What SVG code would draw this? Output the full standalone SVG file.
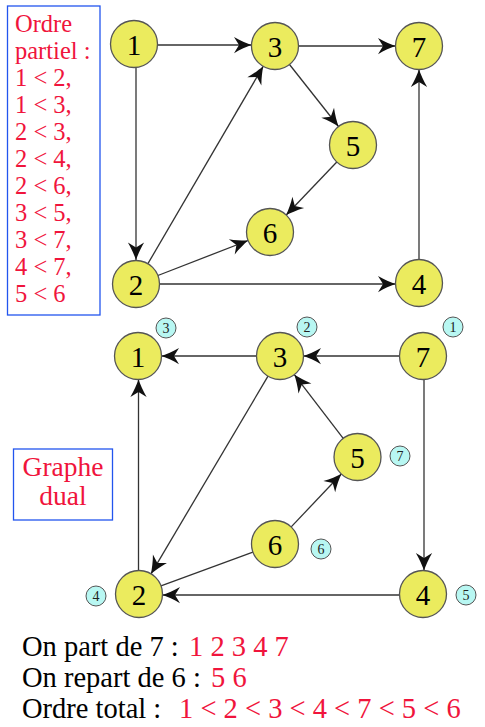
<svg xmlns="http://www.w3.org/2000/svg" width="485" height="727" viewBox="0 0 485 727">
<defs>
<style>
.node{fill:#ebeb5e;stroke:#555;stroke-width:1.3}
.badge{fill:#b8f7f2;stroke:#555;stroke-width:1}
.lbl{font-family:'Liberation Serif','DejaVu Serif',serif;font-size:29px;fill:#000;text-anchor:middle}
.blbl{font-family:'Liberation Serif','DejaVu Serif',serif;font-size:14px;fill:#222;text-anchor:middle}
.edge{stroke:#333;stroke-width:1.3;fill:none}
.arr{marker-end:url(#ah)}
.red{fill:#f0143c}
.txt{font-family:'Liberation Serif','DejaVu Serif',serif}
.box{fill:none;stroke:#2255ee;stroke-width:1.3}
</style>
<marker id="ah" markerUnits="userSpaceOnUse" markerWidth="20" markerHeight="20" viewBox="-15 -8 16 16" refX="0" refY="0" orient="auto">
<path d="M0,0 C-4,-1.5 -9,-3.5 -14,-6.5 L-10,0 L-14,6.5 C-9,3.5 -4,1.5 0,0 Z" fill="#111"/>
</marker>
</defs>
<rect width="485" height="727" fill="#fff"/>

<g id="legend-partiel">
<rect class="box" x="7.5" y="6" width="92.5" height="309"/>
<text class="txt red" font-size="24.5" x="15">
<tspan x="15" y="32">Ordre</tspan>
<tspan x="15" y="59">partiel :</tspan>
<tspan x="15" y="86">1 &lt; 2,</tspan>
<tspan x="15" y="113">1 &lt; 3,</tspan>
<tspan x="15" y="140">2 &lt; 3,</tspan>
<tspan x="15" y="167">2 &lt; 4,</tspan>
<tspan x="15" y="194">2 &lt; 6,</tspan>
<tspan x="15" y="221">3 &lt; 5,</tspan>
<tspan x="15" y="248">3 &lt; 7,</tspan>
<tspan x="15" y="275">4 &lt; 7,</tspan>
<tspan x="15" y="302">5 &lt; 6</tspan>
</text>
</g>

<g id="legend-dual">
<rect class="box" x="13.5" y="449" width="99" height="71"/>
<text class="txt red" font-size="27.5" text-anchor="middle"><tspan x="63" y="476">Graphe</tspan><tspan x="63" y="505">dual</tspan></text>
</g>

<g id="connectors">
<line class="edge arr" x1="157.5" y1="45" x2="251.5" y2="45"/>
<line class="edge arr" x1="136" y1="67.5" x2="136" y2="260"/>
<line class="edge arr" x1="298.5" y1="46" x2="395.5" y2="46"/>
<line class="edge arr" x1="289.5" y1="64.5" x2="338.5" y2="126.5"/>
<line class="edge arr" x1="336.8" y1="162" x2="286.2" y2="215"/>
<line class="edge arr" x1="147.9" y1="263.7" x2="263.2" y2="66.3"/>
<line class="edge arr" x1="157.9" y1="275.5" x2="248.1" y2="240.5"/>
<line class="edge arr" x1="159.5" y1="284" x2="395.5" y2="284"/>
<line class="edge arr" x1="419" y1="259.5" x2="419" y2="69.5"/>

<line class="edge arr" x1="256.5" y1="356" x2="161.5" y2="356"/>
<line class="edge arr" x1="399.5" y1="356" x2="303.5" y2="356"/>
<line class="edge arr" x1="138.5" y1="570.5" x2="138.5" y2="379.5"/>
<line class="edge arr" x1="268" y1="376.2" x2="151" y2="573.8"/>
<line class="edge arr" x1="343.2" y1="438.4" x2="294.3" y2="374.6"/>
<line class="edge arr" x1="291.2" y1="526.9" x2="341.3" y2="474"/>
<line class="edge" x1="252.9" y1="552.1" x2="161" y2="585.9"/>
<line class="edge arr" x1="424" y1="379.5" x2="424" y2="570.5"/>
<line class="edge arr" x1="399.5" y1="595" x2="162.5" y2="595"/>
</g>

<g id="n1"><circle class="node" cx="134" cy="44" r="23.5"/><text class="lbl" x="134" y="54.5">1</text></g>
<g id="n3"><circle class="node" cx="275" cy="46" r="23.5"/><text class="lbl" x="275" y="56.5">3</text></g>
<g id="n7"><circle class="node" cx="419" cy="46" r="23.5"/><text class="lbl" x="419" y="56.5">7</text></g>
<g id="n5"><circle class="node" cx="353" cy="145" r="23.5"/><text class="lbl" x="353" y="155.5">5</text></g>
<g id="n6"><circle class="node" cx="270" cy="232" r="23.5"/><text class="lbl" x="270" y="242.5">6</text></g>
<g id="n2"><circle class="node" cx="136" cy="284" r="23.5"/><text class="lbl" x="136" y="294.5">2</text></g>
<g id="n4"><circle class="node" cx="419" cy="283" r="23.5"/><text class="lbl" x="419" y="293.5">4</text></g>

<g id="d1"><circle class="node" cx="138" cy="356" r="23.5"/><text class="lbl" x="138" y="366.5">1</text><circle class="badge" cx="166" cy="328" r="10"/><text class="blbl" x="166" y="333">3</text></g>
<g id="d3"><circle class="node" cx="280" cy="356" r="23.5"/><text class="lbl" x="280" y="366.5">3</text><circle class="badge" cx="307" cy="327" r="10"/><text class="blbl" x="307" y="332">2</text></g>
<g id="d7"><circle class="node" cx="423" cy="356" r="23.5"/><text class="lbl" x="423" y="366.5">7</text><circle class="badge" cx="453" cy="327" r="10"/><text class="blbl" x="453" y="332">1</text></g>
<g id="d5"><circle class="node" cx="357.5" cy="457" r="23.5"/><text class="lbl" x="357.5" y="467.5">5</text><circle class="badge" cx="400" cy="456" r="10"/><text class="blbl" x="400" y="461">7</text></g>
<g id="d6"><circle class="node" cx="275" cy="544" r="23.5"/><text class="lbl" x="275" y="554.5">6</text><circle class="badge" cx="321" cy="549" r="10"/><text class="blbl" x="321" y="554">6</text></g>
<g id="d2"><circle class="node" cx="139" cy="594" r="23.5"/><text class="lbl" x="139" y="604.5">2</text><circle class="badge" cx="96" cy="596" r="10"/><text class="blbl" x="96" y="601">4</text></g>
<g id="d4"><circle class="node" cx="423" cy="594" r="23.5"/><text class="lbl" x="423" y="604.5">4</text><circle class="badge" cx="466" cy="595" r="10"/><text class="blbl" x="466" y="600">5</text></g>

<g id="summary" class="txt" font-size="28.5">
<text x="22" y="655.5">On part de 7 : <tspan class="red" x="189">1 2 3 4 7</tspan></text>
<text x="22" y="686.5">On repart de 6 : <tspan class="red" x="211">5 6</tspan></text>
<text x="22" y="717.5">Ordre total  : <tspan class="red" x="179">1 &lt; 2 &lt; 3 &lt; 4 &lt; 7 &lt; 5 &lt; 6</tspan></text>
</g>
</svg>
